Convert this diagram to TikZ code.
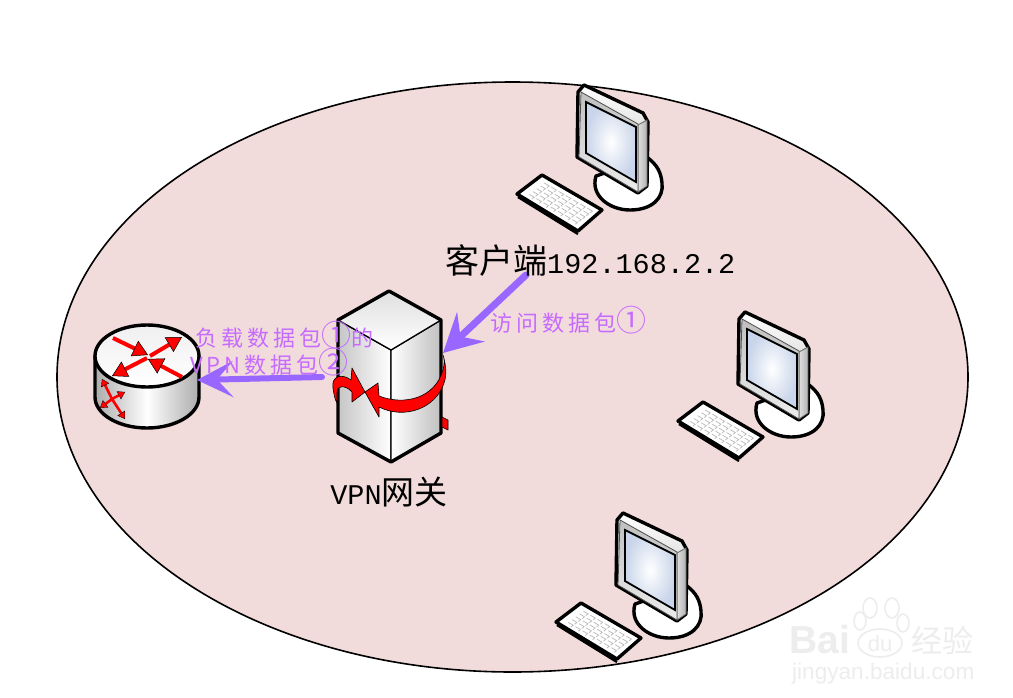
\documentclass[tikz,border=0pt]{standalone}
\usepackage{fontspec}
\usetikzlibrary{arrows.meta}
\newfontfamily\cjk{Noto Sans CJK SC}
\newfontfamily\cjkspaced[LetterSpace=18]{Noto Sans CJK SC}
\newfontfamily\monof{Liberation Mono}
\newfontfamily\sansf{Liberation Sans}
\newcommand{\circd}[1]{{\fontsize{30}{22}\selectfont\cjk #1}}
\definecolor{disc}{HTML}{F2DCDB}
\definecolor{vio}{HTML}{9966FF}
\definecolor{lab}{HTML}{C56BFF}
\definecolor{wm}{HTML}{EDEDED}
\definecolor{scr}{HTML}{C9D5EA}
\tikzset{
 x=1pt,y=-1pt,
 heavy/.style={draw=black,line width=3.4pt,line join=round},
 thinl/.style={draw=black,line width=1.3pt,line join=round},
 redpart/.style={fill=red,draw=black,line width=.6pt,line join=round},
 flowarrow/.style={draw=vio,line width=#1,line cap=round},
 redtip/.style={red,line width=4pt,-{Triangle[length=15pt,width=17pt,fill=red,color=black,line width=.5pt]}},
 redtiny/.style={red,line width=2.6pt,-{Triangle[length=7pt,width=9pt,fill=red,color=black,line width=.3pt]}},
 biglabel/.style={inner sep=0pt,text=black},
 purplelabel/.style={inner sep=0pt,text=lab,font=\cjkspaced\fontsize{22}{22}\selectfont},
 computer/.pic={
  % stand
  \path[heavy,fill=white] (596,176) .. controls (590,196) and (610,210) .. (630,210)
     .. controls (652,210) and (664,198) .. (662,183) .. controls (661,172) and (657,165) .. (648,158) -- cycle;
  \fill[left color=white,right color=gray!70] (636,192) -- (647,184) -- (647,165) -- (640,170) -- cycle;
  % monitor body
  \path[heavy,top color=white,bottom color=gray!55]
     (584,85) -- (643,113) -- (648,122) -- (647,186) -- (638,193) -- (577,157) -- (578,92) -- cycle;
  \path[draw=black!60,line width=.8pt,left color=gray!25,right color=gray!60] (638,125) -- (647,120) -- (647,186) -- (638,192) -- cycle;
  \path[draw=black!70,line width=.8pt,top color=gray!50,bottom color=gray!15] (581,92) -- (638,124) -- (638,192) -- (579,157) -- cycle;
  \path[draw=black,line width=1.8pt,inner color=white,outer color=scr] (586,102) -- (636,127) -- (636,182) -- (586,153) -- cycle;
  % keyboard
  \path[heavy,fill=white] (542,175) -- (602,210) -- (578,231) -- (517,194) -- cycle;
  \draw[black,line width=2.4pt] (518,197) -- (578,234);
  \foreach \v in {0.2,0.35,0.5,0.65,0.8}{
    \foreach \u in {0.12,0.24,0.36,0.48,0.60,0.72,0.84}{
      \draw[gray!55,line width=.7pt] ({542+60*\u-25*\v},{175+35*\u+19*\v}) -- ++(5,2.9) -- ++(-2.3,1.8);
    }
  }
 }
}
\begin{document}
\begin{tikzpicture}
\useasboundingbox (0,0) rectangle (1013,697);
\fill[white] (0,0) rectangle (1013,697);
% network disc
\path[fill=disc,draw=black,line width=1.6pt] (512.5,377) ellipse [x radius=455.5,y radius=295];
% computers
\pic at (0,0) {computer};
\pic at (161,227) {computer};
\pic at (39,428) {computer};
% router
\path[heavy,left color=gray!65,right color=gray!65,middle color=white]
  (95,356) -- (95,397) arc[start angle=180,end angle=0,x radius=52,y radius=31] -- (199,356) -- cycle;
\path[heavy,top color=gray!12,bottom color=white] (147,356) ellipse [x radius=52,y radius=31];
\draw[redtip] (113,338) -- (148,355);
\draw[redtip] (150,356) -- (182,337);
\draw[redtip] (147,358) -- (112,376);
\draw[redtip] (182,377) -- (148,359);
\coordinate (rx) at (112,399);
\draw[redtiny] (rx) -- (102,379);
\draw[redtiny] (rx) -- (125,392);
\draw[redtiny] (rx) -- (100,408);
\draw[redtiny] (rx) -- (125,419);
\coordinate (routerport) at (197,380);
% server
\path[thinl,left color=gray!45,right color=white] (338,320) -- (391,350) -- (391,462) -- (338,433) -- cycle;
\path[thinl,left color=white,right color=gray!50] (391,350) -- (441,320) -- (441,433) -- (391,462) -- cycle;
\path[thinl,top color=gray!25,bottom color=white] (389,291) -- (441,320) -- (391,350) -- (338,320) -- cycle;
\path[heavy] (389,291) -- (441,320) -- (441,433) -- (391,462) -- (338,433) -- (338,320) -- cycle;
% ring arrows round the server
\path[redpart] (442,417) -- (448,420) -- (448,430) -- (442,427) -- cycle;
\path[redpart] (365,392) -- (378,383) -- (379,396) .. controls (405,406) and (435,398) .. (443,370)
  .. controls (445,362) and (444,358) .. (443,355) .. controls (446,365) and (447,375) .. (444,383)
  .. controls (436,408) and (405,420) .. (379,407) -- (379,417) -- cycle;
\path[redpart] (365,392) -- (352,368) -- (351,380) .. controls (342,373) and (331,376) .. (333,388)
  .. controls (334,395) and (335,400) .. (337,403) -- (337,392) .. controls (336,386) and (345,384) .. (352,392) -- (352,402) -- cycle;
% flows
\coordinate (accessfrom) at (526,275);
\coordinate (accessto) at (443,353);
\coordinate (tunnelfrom) at (322,377);
\draw[flowarrow=7pt,-{Stealth[length=38pt,width=40pt,inset=14pt]}] (accessfrom) -- (accessto);
\draw[flowarrow=6pt,-{Stealth[length=36pt,width=36pt,inset=16pt]}] (tunnelfrom) -- (routerport);
% labels
\node[biglabel,anchor=west] (client) at (445,261) {\cjk\fontsize{34}{38}\selectfont 客户端\monof\fontsize{28.5}{38}\selectfont 192.168.2.2};
\node[biglabel] (gateway) at (389,492) {\monof\fontsize{28.5}{36}\selectfont VPN\cjk\fontsize{33}{36}\selectfont 网关};
\node[purplelabel,anchor=west] (load) at (195,335) {负载数据包\circd{①}的};
\node[purplelabel,anchor=west] (vpnpkt) at (190,362) {VPN数据包\circd{②}};
\node[purplelabel,anchor=west] (access) at (490,320) {访问数据包\circd{①}};
% watermark
\node[inner sep=0pt,text=wm,anchor=west] (wmbai) at (789,640) {\sansf\bfseries\fontsize{39}{40}\selectfont Bai};
\foreach \a/\b/\r/\s in {870/608/7/10, 892/608/7/10, 903/623/6/9, 860/621/6/9}{
  \draw[wm,line width=1.6pt] (\a,\b) ellipse [x radius=\r,y radius=\s];
}
\draw[wm,line width=1.6pt] (880,643) ellipse [x radius=22,y radius=14];
\node[inner sep=0pt,text=wm] (wmdu) at (880,644) {\sansf\fontsize{22}{24}\selectfont du};
\node[inner sep=0pt,text=wm,anchor=west] (wmjy) at (911,640) {\cjk\fontsize{31}{34}\selectfont 经验};
\node[inner sep=0pt,text=wm,anchor=west] (wmurl) at (792,674) {\sansf\fontsize{22.6}{24}\selectfont jingyan.baidu.com};
\end{tikzpicture}
\end{document}
